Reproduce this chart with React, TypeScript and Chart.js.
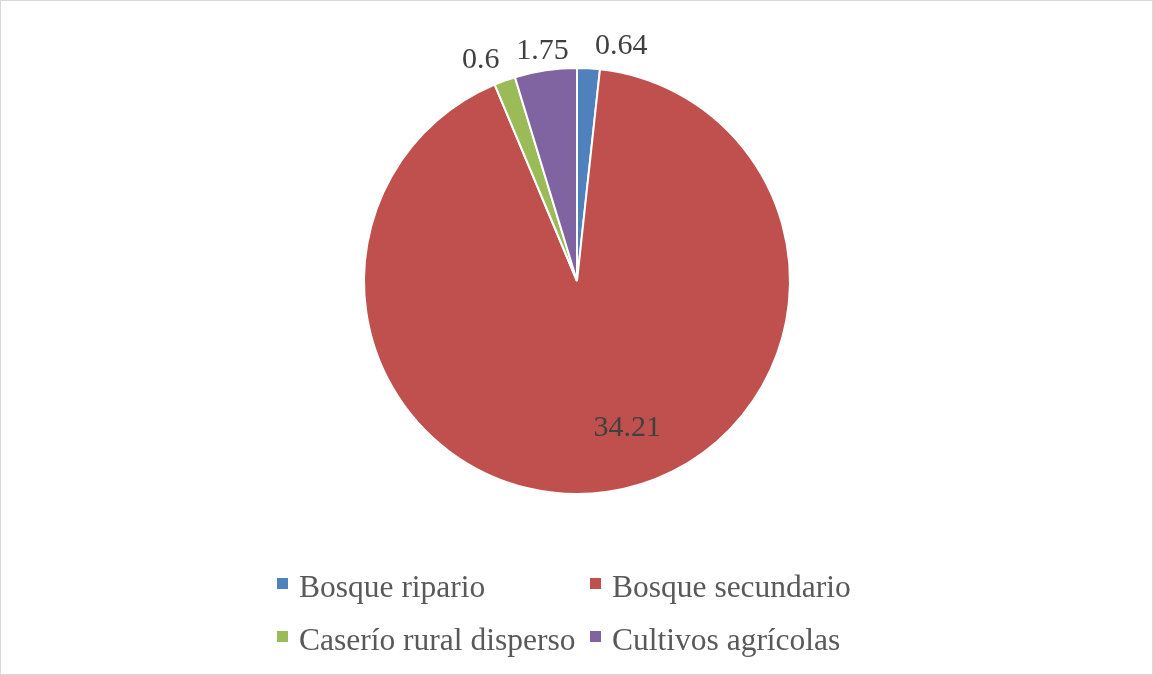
import React, { useEffect, useRef } from "react";
import { Chart, registerables } from "chart.js";

Chart.register(...registerables);

const categories = ["Bosque ripario", "Bosque secundario", "Caserío rural disperso", "Cultivos agrícolas"];
const values = [0.64, 34.21, 0.6, 1.75];
const valueLabels = ["0.64", "34.21", "0.6", "1.75"];
const colors = ["#4F81BD", "#C0504D", "#9BBB59", "#8064A2"];

// label placement (style): radius factor and angle shift (deg) relative to slice middle
const labelRadius = [1.132, 0.72, 1.14, 1.1];
const labelShift = [7.5, -10.9, -3.5, 0];

const W = 1153;
const H = 675;
const FONT = "'Liberation Serif', 'Times New Roman', serif";

const labelPlugin = {
  id: "sliceLabels",
  afterDatasetsDraw(chart: any) {
    const ctx = chart.ctx;
    const meta = chart.getDatasetMeta(0);
    ctx.save();
    ctx.font = `30px ${FONT}`;
    ctx.fillStyle = "#404040";
    ctx.textAlign = "center";
    ctx.textBaseline = "middle";
    meta.data.forEach((arc: any, i: number) => {
      const p = arc.getProps(["x", "y", "startAngle", "endAngle", "outerRadius"], true);
      const mid = (p.startAngle + p.endAngle) / 2 + (labelShift[i] * Math.PI) / 180;
      const r = p.outerRadius * labelRadius[i];
      ctx.fillText(valueLabels[i], p.x + Math.cos(mid) * r, p.y + Math.sin(mid) * r + 2);
    });
    ctx.restore();
  },
};

const legendPlugin = {
  id: "gridLegend",
  afterDraw(chart: any) {
    const ctx = chart.ctx;
    const colX = [277, 590];
    const rowY = [578, 631];
    const labels = chart.data.labels as string[];
    const bg = chart.data.datasets[0].backgroundColor as string[];
    ctx.save();
    ctx.font = `31.5px ${FONT}`;
    ctx.textAlign = "left";
    ctx.textBaseline = "alphabetic";
    labels.forEach((lab, i) => {
      const x = colX[i % 2];
      const y = rowY[Math.floor(i / 2)];
      ctx.fillStyle = bg[i];
      ctx.fillRect(x, y, 11, 11);
      ctx.fillStyle = "#595959";
      ctx.fillText(lab, x + 22, y + 19);
    });
    // outer frame
    ctx.strokeStyle = "#D9D9D9";
    ctx.lineWidth = 1;
    ctx.strokeRect(0.5, 0.5, W - 1, H - 1);
    ctx.restore();
  },
};

export default function App() {
  const ref = useRef<HTMLCanvasElement | null>(null);
  useEffect(() => {
    document.body.style.margin = "0";
    const canvas = ref.current!;
    const chart = new Chart(canvas, {
      type: "pie",
      data: {
        labels: categories,
        datasets: [
          {
            data: values,
            backgroundColor: colors,
            borderColor: "#FFFFFF",
            borderWidth: 2,
          },
        ],
      },
      options: {
        responsive: false,
        animation: false,
        devicePixelRatio: 1,
        layout: { padding: { top: 67, bottom: 180, left: 1, right: 0 } },
        plugins: {
          legend: { display: false },
          tooltip: { enabled: false },
        },
      },
      plugins: [labelPlugin, legendPlugin],
    });
    return () => chart.destroy();
  }, []);
  return (
    <div style={{ position: "absolute", left: 0, top: 0, width: W, height: H, background: "#fff" }}>
      <canvas ref={ref} width={W} height={H} style={{ display: "block", width: W, height: H }} />
    </div>
  );
}
